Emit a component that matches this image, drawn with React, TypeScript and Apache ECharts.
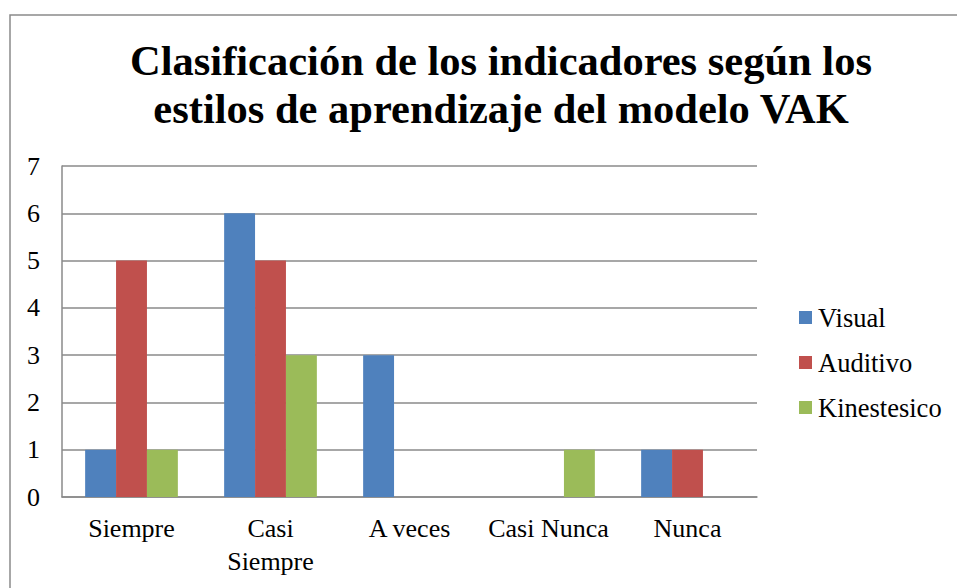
import React, { useEffect, useRef } from "react";
import * as echarts from "echarts";

const categories = ["Siempre", "Casi Siempre", "A veces", "Casi Nunca", "Nunca"];
const visual = [1, 6, 3, 0, 1];
const auditivo = [5, 5, 0, 0, 1];
const kinestesico = [1, 3, 0, 1, 0];
const seriesNames = ["Visual", "Auditivo", "Kinestesico"];
const colors = ["#4F81BD", "#C0504D", "#9BBB59"];
const titleLines = [
  "Clasificación de los indicadores según los",
  "estilos de aprendizaje del modelo VAK",
];

const FONT = "Liberation Serif";

export default function App() {
  const ref = useRef<HTMLDivElement>(null);
  useEffect(() => {
    if (!ref.current) return;
    const chart = echarts.init(ref.current, null, { renderer: "svg" });
    const data = [visual, auditivo, kinestesico];
    chart.setOption({
      animation: false,
      backgroundColor: "#ffffff",
      textStyle: { fontFamily: FONT },
      title: {
        text: titleLines.join("\n"),
        left: 501,
        top: 36,
        padding: 0,
        textAlign: "center",
        textStyle: {
          fontFamily: FONT,
          fontSize: 42.5,
          fontWeight: "bold",
          color: "#000",
          lineHeight: 48,
        },
      },
      graphic: [
        {
          type: "rect",
          shape: { x: 10, y: 15, width: 1000, height: 1000 },
          style: { fill: "none", stroke: "#8a8a8a", lineWidth: 1.5 },
          silent: true,
        },
      ],
      legend: {
        orient: "vertical",
        left: 799,
        top: 304,
        padding: 0,
        itemWidth: 13,
        itemHeight: 13,
        itemGap: 18,
        icon: "rect",
        textStyle: { fontFamily: FONT, fontSize: 26.5, lineHeight: 26, color: "#000", padding: [0, 0, 0, 1] },
        data: seriesNames,
      },
      grid: { left: 62, right: 200, top: 166, bottom: 91, containLabel: false },
      xAxis: {
        type: "category",
        data: categories,
        axisLine: { show: true, lineStyle: { color: "#8a8a8a", width: 1.5 } },
        axisTick: { show: false },
        axisLabel: {
          fontFamily: FONT,
          fontSize: 26,
          color: "#000",
          margin: 15,
          lineHeight: 33,
          interval: 0,
          formatter: (v: string) => (v === "Casi Siempre" ? "Casi\nSiempre" : v),
        },
      },
      yAxis: {
        type: "value",
        min: 0,
        max: 7,
        interval: 1,
        axisLine: { show: true, lineStyle: { color: "#8a8a8a", width: 1.5 } },
        axisTick: { show: false },
        splitLine: { show: true, lineStyle: { color: "#8a8a8a", width: 1.5 } },
        axisLabel: { fontFamily: FONT, fontSize: 26, color: "#000", margin: 22 },
      },
      series: seriesNames.map((name, i) => ({
        name,
        type: "bar",
        data: data[i],
        barGap: "0%",
        barCategoryGap: "33.3%",
        itemStyle: { color: colors[i] },
      })),
    });
    return () => chart.dispose();
  }, []);
  return (
    <div
      ref={ref}
      style={{ position: "absolute", left: 0, top: 0, width: 957, height: 588 }}
    />
  );
}
